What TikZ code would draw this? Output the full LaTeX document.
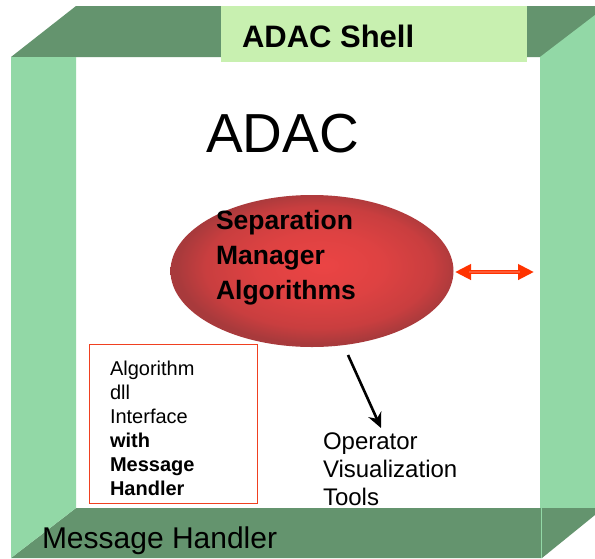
\documentclass[tikz,border=0pt]{standalone}
\usepackage{fontspec}
\setmainfont{Liberation Sans}
\usetikzlibrary{arrows.meta,shapes.geometric}
\definecolor{darkg}{HTML}{64946E}
\definecolor{lightg}{HTML}{92D8A6}
\definecolor{labelg}{HTML}{C8F0B0}
\definecolor{boxred}{HTML}{F04020}
\definecolor{arrred}{HTML}{FF3300}
\definecolor{arrlight}{HTML}{FF5A35}
\definecolor{ellin}{HTML}{EB4444}
\definecolor{ellmid}{HTML}{DE4242}
\definecolor{ellmidb}{HTML}{C93E3F}
\definecolor{ellout}{HTML}{A83A3C}
\pgfdeclareradialshading{ellshade}{\pgfpoint{2bp}{2bp}}{%
  color(0bp)=(ellin); color(11bp)=(ellmid); color(20bp)=(ellmidb); color(25bp)=(ellout); color(50bp)=(ellout)}
\tikzset{
  txt/.style={inner sep=0pt, outer sep=0pt, text=black},
}
\begin{document}
\begin{tikzpicture}[x=1pt,y=-1pt]
\useasboundingbox (0,0) rectangle (595,558);
\fill[white] (0,0) rectangle (595,558);
% frame
\fill[darkg] (11,57) -- (76,6) -- (595,6) -- (595,57) -- cycle;
\fill[lightg] (540,57) -- (595,15) -- (595,508) -- (540,508) -- cycle;
\fill[darkg] (76,508) -- (540,508) -- (540,558) -- (11,558) -- cycle;
\fill[lightg] (11,57) -- (76,57) -- (76,508) -- (11,558) -- cycle;
\fill[darkg] (540,508) -- (595,508) -- (595,515) -- (542,558) -- (540,558) -- cycle;
\draw[lightg, line width=0.8pt] (541,508) -- (541,558);
\fill[labelg] (221,6) rectangle (527,62);
\node[txt, anchor=base west, font=\bfseries\fontsize{31}{36}\selectfont] (shell) at (242,47) {ADAC Shell};
% titles
\node[txt, anchor=base west, font=\fontsize{55}{60}\selectfont] (adac) at (206,152) {ADAC};
% algorithm box
\node[draw=boxred, line width=0.9pt, fill=white, minimum width=168pt, minimum height=159pt, anchor=north west, inner sep=0pt] (box) at (89,344) {};
\node[txt, anchor=north west, align=left, font=\fontsize{20}{24}\selectfont] (boxtext) at (110,360.5)
  {Algorithm\\dll\\Interface\\\textbf{with}\\\textbf{Message}\\\textbf{Handler}};
% ellipse
\node[ellipse, minimum width=283pt, minimum height=152pt, inner sep=0pt, shading=ellshade] (sep) at (312,271) {};
\node[txt, anchor=north west, align=left, font=\bfseries\fontsize{26.5}{35}\selectfont] (septext) at (216,210.5)
  {Separation\\Manager\\Algorithms};
% double arrow
\coordinate (d1) at (455,272);
\coordinate (d2) at (534,272);
\draw[arrred, line width=4pt, {Triangle[length=16pt, width=15pt]}-{Triangle[length=16pt, width=15pt]}] (d1) -- (d2);
\draw[arrlight, line width=1.2pt] ([xshift=14pt]d1) -- ([xshift=-14pt]d2);
% operator arrow and text
\node[txt, anchor=north west, align=left, font=\fontsize{24}{28}\selectfont] (oper) at (323,432.5)
  {Operator\\Visualization\\Tools};
\coordinate (a1) at (348,355);
\coordinate (a2) at (381,428);
\draw[black, line width=2.6pt, -{Stealth[length=15pt, width=14pt]}] (a1) -- (a2);
% bottom text
\node[txt, anchor=base west, font=\fontsize{30}{34}\selectfont] (msg) at (42,548) {Message Handler};
\end{tikzpicture}
\end{document}
